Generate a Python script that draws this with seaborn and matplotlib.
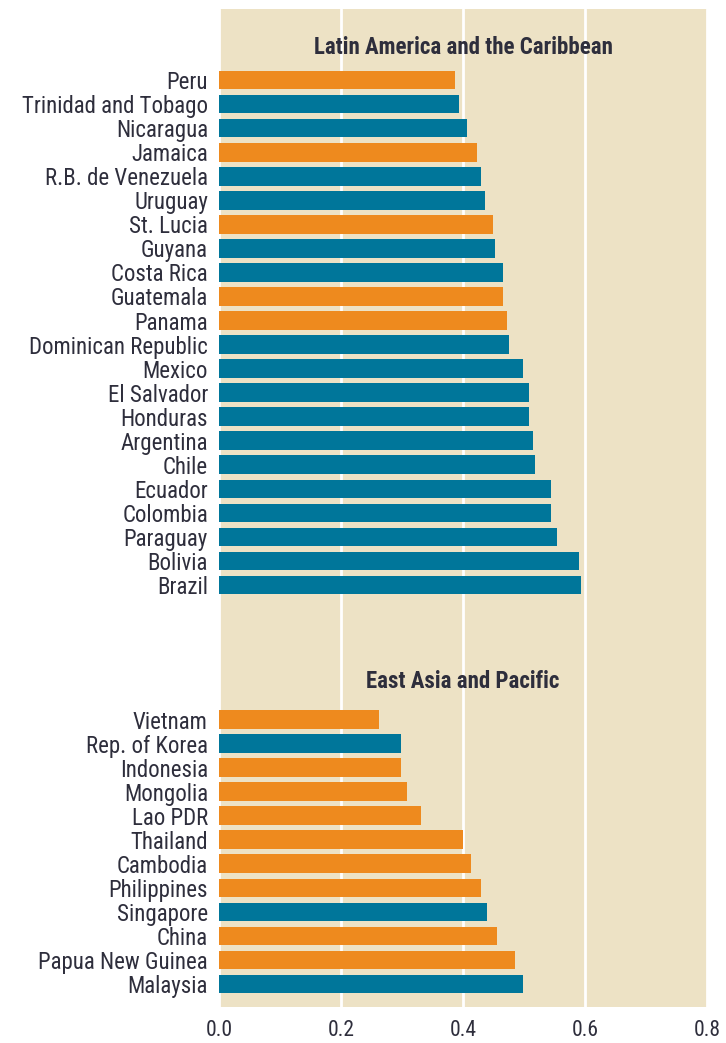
import numpy as np
import pandas as pd
import seaborn as sns
import matplotlib.pyplot as plt
from matplotlib import font_manager as fm

# ---- data ----
latam_countries = ["Peru", "Trinidad and Tobago", "Nicaragua", "Jamaica", "R.B. de Venezuela",
                   "Uruguay", "St. Lucia", "Guyana", "Costa Rica", "Guatemala", "Panama",
                   "Dominican Republic", "Mexico", "El Salvador", "Honduras", "Argentina",
                   "Chile", "Ecuador", "Colombia", "Paraguay", "Bolivia", "Brazil"]
latam_values = [0.387, 0.393, 0.406, 0.423, 0.429, 0.436, 0.449, 0.452, 0.466, 0.466, 0.472,
                0.475, 0.498, 0.508, 0.508, 0.514, 0.518, 0.544, 0.544, 0.554, 0.590, 0.594]
latam_groups = ["A", "B", "B", "A", "B", "B", "A", "B", "B", "A", "A",
                "B", "B", "B", "B", "B", "B", "B", "B", "B", "B", "B"]

eap_countries = ["Vietnam", "Rep. of Korea", "Indonesia", "Mongolia", "Lao PDR", "Thailand",
                 "Cambodia", "Philippines", "Singapore", "China", "Papua New Guinea", "Malaysia"]
eap_values = [0.262, 0.298, 0.298, 0.308, 0.331, 0.400, 0.413, 0.429, 0.439, 0.456, 0.485, 0.498]
eap_groups = ["A", "B", "A", "A", "A", "A", "A", "A", "B", "A", "A", "B"]

region_titles = ["Latin America and the Caribbean", "East Asia and Pacific"]
x_ticks = [0.0, 0.2, 0.4, 0.6, 0.8]
x_ticklabels = ["0.0", "0.2", "0.4", "0.6", "0.8"]

# ---- layout of rows ----
gap_start = len(latam_countries) - 1 + 5.6
latam_pos = list(np.arange(len(latam_countries), dtype=float))
eap_pos = list(gap_start + np.arange(len(eap_countries), dtype=float))

df = pd.DataFrame({
    "country": latam_countries + eap_countries,
    "value": latam_values + eap_values,
    "group": latam_groups + eap_groups,
    "pos": latam_pos + eap_pos,
})

ORANGE = "#ee8a1e"
TEAL = "#00769a"
BG = "#ede2c5"
TXT = "#2e2e3c"

sns.set_style("white")

# pick a condensed face if one is installed
names = {f.name for f in fm.fontManager.ttflist}
stretch = "normal"
family = None
for cand in ["Liberation Sans Narrow", "DejaVu Sans Condensed", "Roboto Condensed",
             "Open Sans Condensed", "Arial Narrow"]:
    if cand in names:
        family = cand
        break
if family is None:
    for f in fm.fontManager.ttflist:
        if str(f.stretch) in ("condensed", "semi-condensed") and "Sans" in f.name:
            family = f.name
            stretch = "condensed"
            break
if family is None:
    family = "Roboto"
plt.rcParams["font.family"] = [family, "DejaVu Sans"]
plt.rcParams["font.stretch"] = stretch
narrow = family != "Roboto"
lab_size = 16.5 if narrow else 13
xtick_size = 15.5 if narrow else 12.5
title_size = 16.5 if narrow else 13

fig = plt.figure(figsize=(7.26, 10.43), dpi=100)
ax = fig.add_axes([219 / 726, 1 - 1007 / 1043, (707 - 219) / 726, (1007 - 9) / 1043])
ax.set_facecolor(BG)

sns.barplot(data=df, x="value", y="pos", hue="group", orient="h", native_scale=True,
            dodge=False, palette={"A": ORANGE, "B": TEAL}, width=0.77, saturation=1,
            linewidth=0, legend=False, ax=ax, errorbar=None)

ax.set_xlim(0, 0.8)
ax.set_ylim(eap_pos[-1] + 0.96, -2.96)
ax.set_xticks(x_ticks, x_ticklabels)
ax.set_yticks(df["pos"], df["country"])
ax.tick_params(axis="both", length=0, colors=TXT)
ax.tick_params(axis="y", pad=8, labelsize=lab_size)
ax.tick_params(axis="x", pad=9, labelsize=xtick_size)
ax.set_xlabel("")
ax.set_ylabel("")
for s in ax.spines.values():
    s.set_visible(False)

ax.set_axisbelow(True)
ax.xaxis.grid(True, color="white", linewidth=2)
ax.yaxis.grid(False)

ax.text(0.4, -1.375, region_titles[0], ha="center", va="center", fontsize=title_size,
        fontweight="bold", color=TXT)
ax.text(0.4, gap_start - 1.58, region_titles[1], ha="center", va="center",
        fontsize=title_size, fontweight="bold", color=TXT)

fig.savefig("out.png", dpi=100, facecolor="white")
